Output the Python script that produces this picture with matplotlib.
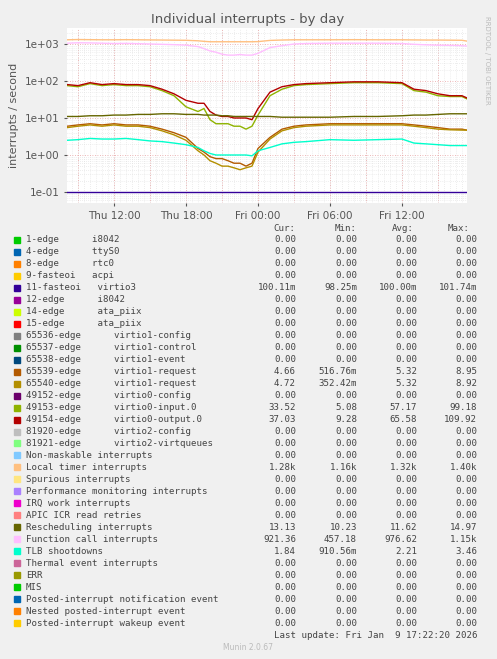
import matplotlib
matplotlib.use("Agg")
import matplotlib.pyplot as plt
import numpy as np

# time in hours since Thu 00:00
t = [8.1, 9, 10, 11, 12, 13, 14, 15, 16, 17, 18, 19, 19.5, 20, 20.5, 21, 21.5, 22, 22.5, 23, 23.5, 24, 25, 26, 27, 28, 30, 32, 34, 36, 37, 38, 39, 40, 41, 41.4]
local_timer = [1300,1320,1310,1300,1300,1310,1300,1290,1280,1270,1260,1220,1180,1150,1150,1150,1150,1150,1150,1150,1150,1160,1250,1280,1300,1300,1300,1310,1300,1300,1290,1280,1280,1270,1260,1200]
func_call = [1050,1080,1070,1050,1030,1040,1020,1000,980,960,930,850,750,650,600,530,500,500,520,500,500,560,800,900,1000,1030,1050,1050,1050,1030,980,950,930,920,900,880]
v0_out = [80,75,90,80,85,80,80,75,60,45,30,25,25,15,12,11,11,10,10,10,9,18,50,70,80,85,90,95,95,90,60,55,45,40,40,35]
v0_in = [75,70,85,75,80,75,75,70,55,40,20,15,18,9,7,7,7,6,6,5,6,12,40,60,75,80,85,90,90,85,55,50,40,38,38,33]
resched = [11,11,11.5,11.5,12,12,12.5,12.5,13,13,12.5,12.5,12,12,12,11.5,11.5,11,11,11,11,11,11,10.5,10.5,10.5,10.5,11,11,11.5,12,12,12.5,13,13,13]
v1_req_a = [6,6.5,7,6.5,7,6.5,6.5,6,5,4,3,1.5,1.2,0.9,0.8,0.8,0.7,0.6,0.6,0.5,0.6,1.5,3,5,6,6.5,7,7,7,7,6.5,6,5.5,5,5,4.7]
v1_req_b = [5.5,6,6.5,6,6.5,6,6,5.5,4.5,3.5,2.5,1.3,1.0,0.7,0.6,0.5,0.5,0.45,0.4,0.45,0.5,1.2,2.7,4.5,5.5,6,6.5,6.5,6.5,6.5,6,5.5,5,4.8,4.7,4.7]
tlb = [2.5,2.6,2.8,2.7,2.7,2.8,2.6,2.4,2.3,2.1,1.9,1.6,1.3,1.1,1.0,1.0,1.0,1.0,1.0,1.0,0.95,1.3,1.6,2.0,2.2,2.3,2.6,2.5,2.6,2.7,2.1,2.0,1.9,1.8,1.8,1.8]
virtio3 = [0.1]*len(t)

names = ["1-edge      i8042","4-edge      ttyS0","8-edge      rtc0","9-fasteoi   acpi",
 "11-fasteoi   virtio3","12-edge      i8042","14-edge      ata_piix","15-edge      ata_piix",
 "65536-edge      virtio1-config","65537-edge      virtio1-control","65538-edge      virtio1-event",
 "65539-edge      virtio1-request","65540-edge      virtio1-request","49152-edge      virtio0-config",
 "49153-edge      virtio0-input.0","49154-edge      virtio0-output.0","81920-edge      virtio2-config",
 "81921-edge      virtio2-virtqueues","Non-maskable interrupts","Local timer interrupts","Spurious interrupts",
 "Performance monitoring interrupts","IRQ work interrupts","APIC ICR read retries","Rescheduling interrupts",
 "Function call interrupts","TLB shootdowns","Thermal event interrupts","ERR","MIS",
 "Posted-interrupt notification event","Nested posted-interrupt event","Posted-interrupt wakeup event"]
colors = ["#00CC00","#0066B3","#FF8000","#FFCC00","#330099","#990099","#CCFF00","#FF0000","#808080","#008F00",
 "#00487D","#B35A00","#B38F00","#6B006B","#8FB300","#B30000","#BEBEBE","#80FF80","#80C9FF","#FFC080",
 "#FFE680","#AA80FF","#EE00CC","#FF8080","#666600","#FFBFFF","#00FFCC","#CC6699","#999900","#00CC00",
 "#0066B3","#FF8000","#FFCC00"]
cur = ["0.00"]*33; mn = ["0.00"]*33; avg = ["0.00"]*33; mx = ["0.00"]*33
vals = {4:("100.11m","98.25m","100.00m","101.74m"),11:("4.66","516.76m","5.32","8.95"),
        12:("4.72","352.42m","5.32","8.92"),14:("33.52","5.08","57.17","99.18"),
        15:("37.03","9.28","65.58","109.92"),19:("1.28k","1.16k","1.32k","1.40k"),
        24:("13.13","10.23","11.62","14.97"),25:("921.36","457.18","976.62","1.15k"),
        26:("1.84","910.56m","2.21","3.46")}
for k,v in vals.items():
    cur[k],mn[k],avg[k],mx[k] = v

W,H = 497,659
fig = plt.figure(figsize=(W/100,H/100), dpi=100, facecolor="#F0F0F0")
ax = fig.add_axes([67/W, 1-203/H, 400/W, 175/H])
ax.set_facecolor("white")
ax.set_yscale("log")
ax.set_xlim(8.08, 41.42)
ax.set_ylim(10**(-1-11/37), 10**(3+16/37))
# grid
for h in np.arange(8.5, 41.5, 0.5):
    ax.axvline(h, color="#DDDDDD", lw=0.5, ls=(0,(1,2)), zorder=0)
for h in np.arange(9, 42, 3):
    ax.axvline(h, color="#E8A0A0", lw=0.6, ls=(0,(1,2)), zorder=0)
for d in range(-2, 4):
    for m in range(2, 10):
        ax.axhline(m*10.0**d, color="#DDDDDD", lw=0.5, ls=(0,(1,2)), zorder=0)
    ax.axhline(10.0**d, color="#E8A0A0", lw=0.6, ls=(0,(1,2)), zorder=0)
series = [(local_timer,19),(func_call,25),(v0_in,14),(v0_out,15),(resched,24),(v1_req_a,11),(v1_req_b,12),(tlb,26),(virtio3,4)]
for s,ci in series:
    ax.plot(t, s, color=colors[ci], lw=1)
ax.set_xticks([12,18,24,30,36])
ax.set_xticklabels(["Thu 12:00","Thu 18:00","Fri 00:00","Fri 06:00","Fri 12:00"])
ax.set_yticks([0.1,1,10,100,1000])
ax.set_yticklabels(["1e-01","1e+00","1e+01","1e+02","1e+03"])
ax.yaxis.set_minor_locator(matplotlib.ticker.NullLocator())
ax.tick_params(colors="#555555", labelsize=7.5, length=2)
for sp in ax.spines.values():
    sp.set_visible(False)
ax.set_ylabel("interrupts / second", fontsize=8, color="#555555")
fig.text(248/W, 1-19/H, "Individual interrupts - by day", ha="center", va="center", fontsize=9.5, color="#555555")
fig.text(487/W, 1-60/H, "RRDTOOL / TOBI OETIKER", rotation=270, ha="center", va="center", fontsize=5, color="#BBBBBB")

mono = dict(family="DejaVu Sans Mono", fontsize=6.6, color="#444444", va="center")
y0 = 228
fig.text(295/W, 1-y0/H, "Cur:", ha="right", **mono)
fig.text(357/W, 1-y0/H, "Min:", ha="right", **mono)
fig.text(414/W, 1-y0/H, "Avg:", ha="right", **mono)
fig.text(470/W, 1-y0/H, "Max:", ha="right", **mono)
for i,nm in enumerate(names):
    y = 240 + i*11.97
    fig.patches.append(matplotlib.patches.Rectangle((14/W, 1-(y+3)/H), 6/W, 6/H, transform=fig.transFigure, color=colors[i]))
    fig.text(26/W, 1-y/H, nm, ha="left", **mono)
    fig.text(296/W, 1-y/H, cur[i], ha="right", **mono)
    fig.text(357/W, 1-y/H, mn[i], ha="right", **mono)
    fig.text(417/W, 1-y/H, avg[i], ha="right", **mono)
    fig.text(477/W, 1-y/H, mx[i], ha="right", **mono)
fig.text(477/W, 1-635/H, "Last update: Fri Jan  9 17:22:20 2026", ha="right", **mono)
fig.text(248/W, 1-648/H, "Munin 2.0.67", ha="center", va="center", fontsize=5.5, color="#BBBBBB")
fig.savefig("out.png", dpi=100, facecolor=fig.get_facecolor())
